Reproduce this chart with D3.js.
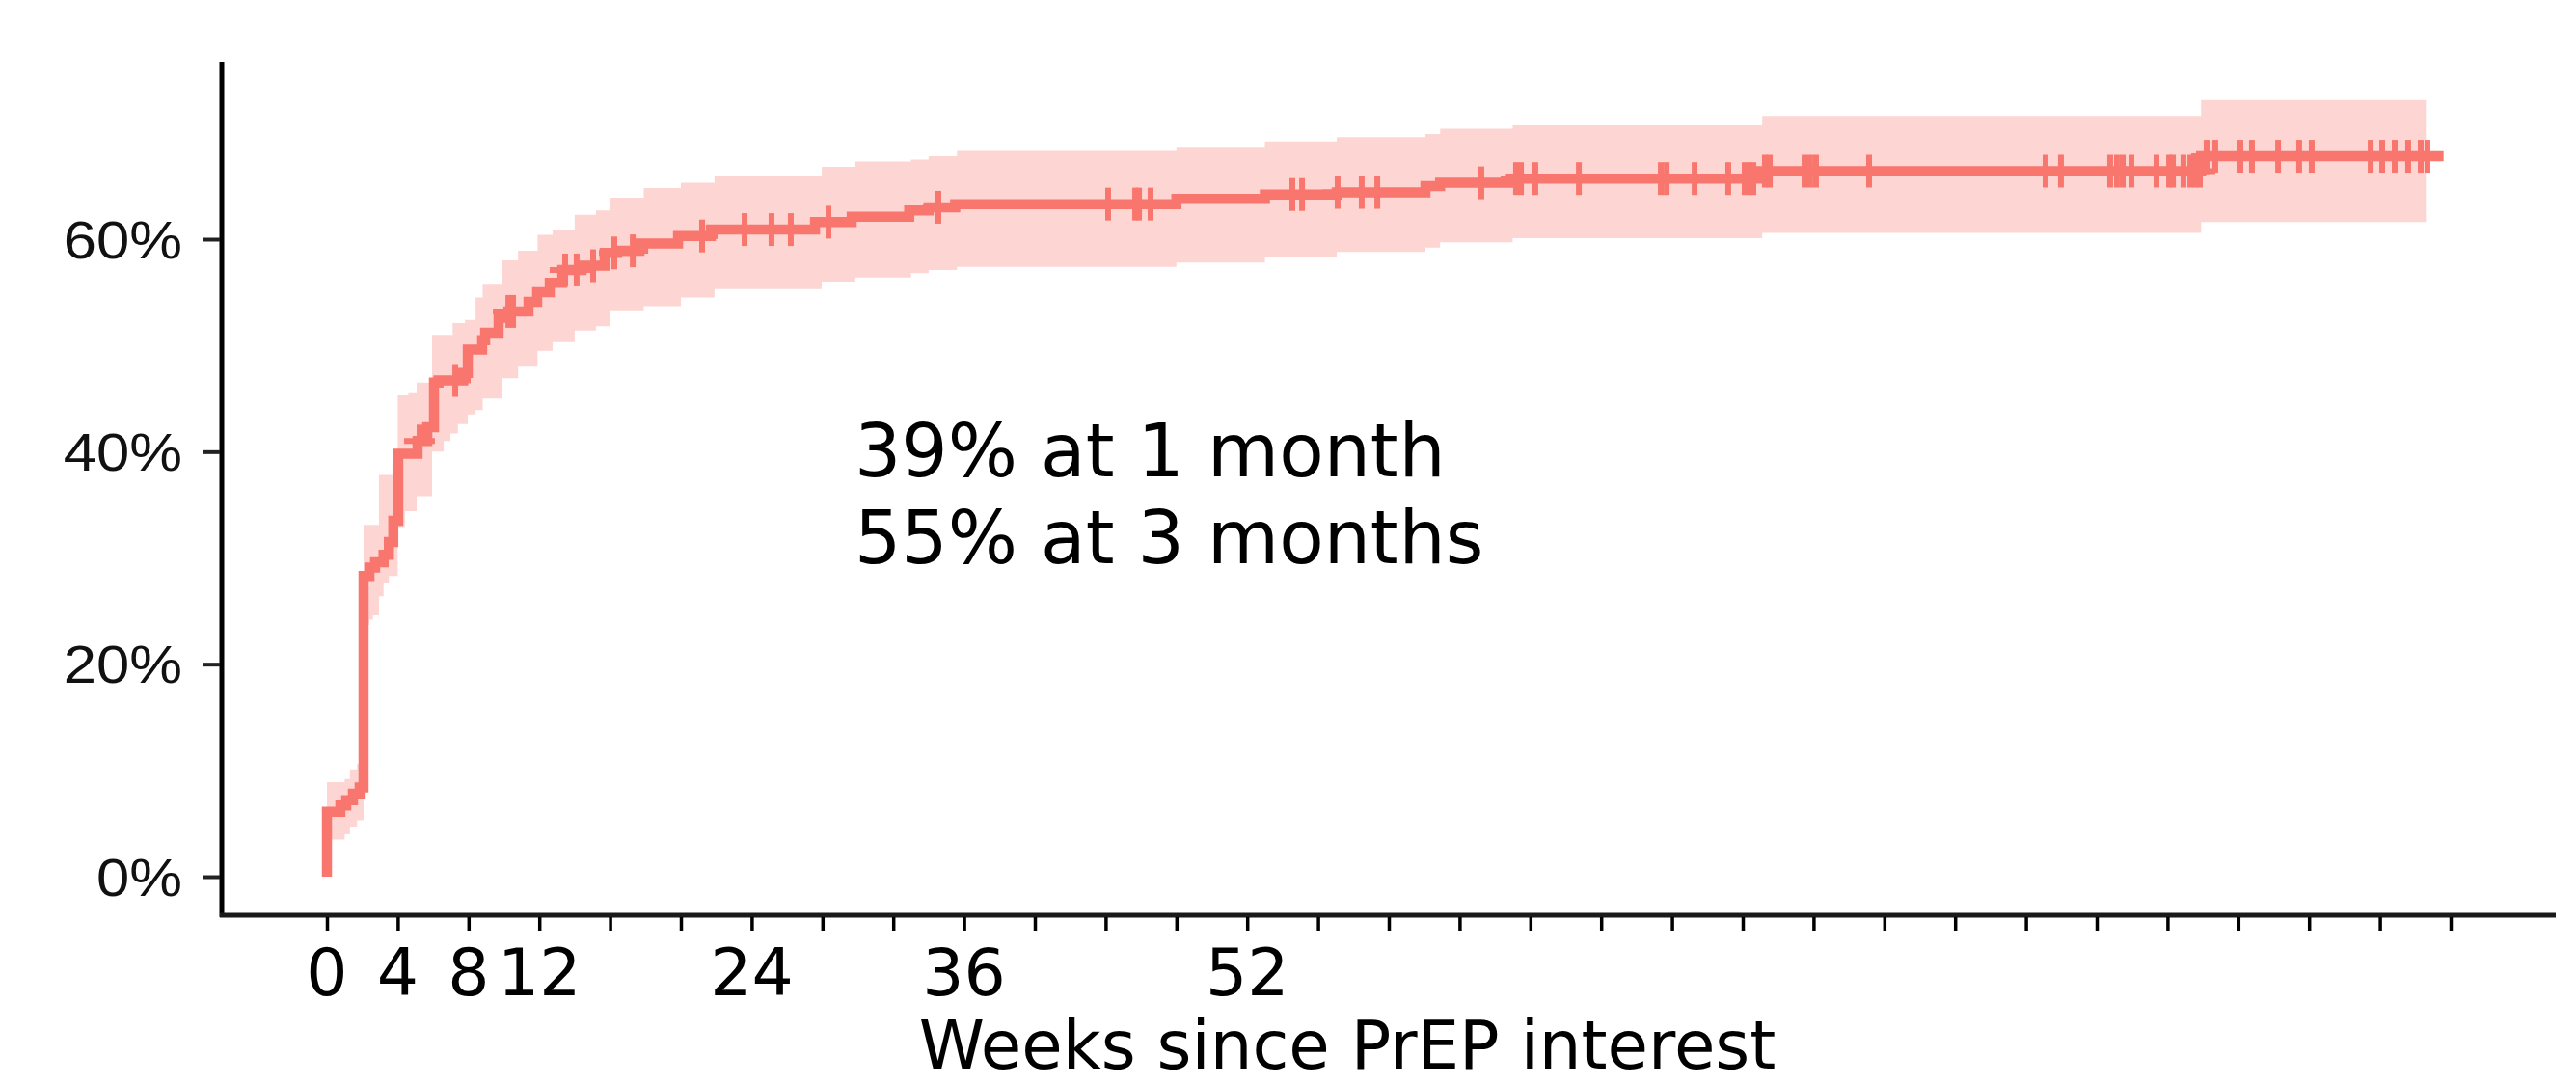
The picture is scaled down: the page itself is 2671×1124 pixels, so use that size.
<!DOCTYPE html>
<html><head><meta charset="utf-8">
<script src="https://cdn.jsdelivr.net/npm/d3@7"></script>
<style>html,body{margin:0;padding:0;background:#fff;} svg{display:block;}</style>
</head><body>
<svg id="chart" width="2671" height="1124"></svg>
<script>
// ---- data (weeks, cumulative % initiating PrEP) ----
const weeks = [0, 0, 0.76, 1.09, 1.47, 1.85, 2.07, 2.4, 2.72, 3.2, 3.5, 3.75, 4.03, 5.12, 5.67, 6.05, 6.3, 7.7,
  7.96, 8.77, 8.94, 9.7, 10.25, 11.39, 11.88, 12.59, 13.3, 14.39, 15.69, 16.4, 17.66, 19.84, 21.69, 27.58, 29.65,
  32.9, 34.0, 35.5, 48.0, 53.0, 57.06, 62.07, 62.9, 66.9, 80.9, 105.9, 119.6];
const estimate = [0, 6.1, 6.7, 7.2, 7.8, 8.4, 28.3, 29.1, 29.6, 30.3, 31.5, 33.5, 39.8, 41.0, 42.3, 46.5, 46.7, 47.4,
  49.6, 50.5, 51.2, 52.6, 53.2, 54.1, 55.0, 55.9, 57.1, 57.5, 58.7, 58.9, 59.6, 60.3, 60.9, 61.6, 62.1,
  62.7, 63.0, 63.3, 63.8, 64.2, 64.4, 65.0, 65.3, 65.7, 66.4, 67.8, 67.8];

const bandWeeks = [0, 1.0, 1.3, 1.7, 2.07, 2.4, 2.6, 2.94, 3.2, 3.5, 3.7, 4.0, 4.4, 4.6, 5.07, 5.94, 6.6, 6.98, 7.1,
  7.4, 7.8, 7.96, 8.4, 8.8, 9.9, 10.8, 11.9, 12.75, 14.0, 15.2, 16.0, 17.9, 20.0, 21.9, 27.96, 29.86, 33.0, 34.0,
  35.6, 48.0, 53.0, 57.06, 62.07, 62.9, 67.0, 81.1, 105.9, 118.6];
const upperCI = [8.9, 9.2, 10.1, 10.6, 33.1, 33.1, 33.1, 37.8, 37.8, 37.8, 38.9, 45.3, 45.3, 45.6, 46.5, 51.0, 51.0, 51.0, 52.1,
  52.1, 52.4, 52.4, 54.5, 55.8, 58.0, 58.9, 60.4, 60.9, 62.3, 62.7, 63.9, 64.8, 65.3, 66.0, 66.8, 67.3, 67.5, 67.8,
  68.3, 68.7, 69.2, 69.6, 69.9, 70.4, 70.7, 71.6, 73.1, 73.1];
const lowerCI = [3.5, 4.0, 4.7, 5.3, 23.7, 24.2, 24.6, 26.4, 27.6, 28.3, 28.3, 32.9, 34.4, 34.4, 35.8, 40.0, 41.0, 41.7, 41.7,
  42.6, 42.6, 43.5, 43.9, 45.0, 46.9, 48.0, 49.5, 50.3, 51.4, 51.8, 53.3, 53.7, 54.5, 55.3, 56.0, 56.4, 56.8, 57.1,
  57.4, 57.8, 58.3, 58.8, 59.2, 59.7, 60.1, 60.6, 61.6, 61.6];

const censorWeeks = [5.23, 7.25, 10.25, 10.52, 13.46, 14.11, 15.04, 16.24, 17.28, 21.2, 23.6, 25.12, 26.21, 28.34, 34.55,
  44.14, 45.67, 45.89, 46.54, 54.55, 55.1, 57.11, 58.47, 59.35, 65.23, 67.19, 67.47, 68.28, 70.74, 75.37, 75.7, 77.28,
  79.18, 80.11, 80.38, 80.6, 81.25, 81.53, 83.49, 83.81, 84.14, 87.14, 97.11, 97.98, 100.76, 101.14, 101.47, 101.96,
  103.38, 104.09, 104.31, 104.9, 105.29, 105.56, 105.83, 106.21, 106.7, 108.12, 108.77, 110.25, 111.44, 112.15,
  115.48, 116.13, 116.84, 117.6, 118.31, 118.69];

const yTickValues = [0, 20, 40, 60];
const yTickLabels = ["0%", "20%", "40%", "60%"];
const xTickValues = [0,4,8,12,16,20,24,28,32,36,40,44,48,52,56,60,64,68,72,76,80,84,88,92,96,100,104,108,112,116,120];
const xLabelValues = [0, 4, 8, 12, 24, 36, 52];
const xLabelTexts = ["0", "4", "8", "12", "24", "36", "52"];
const annotationLines = ["39% at 1 month", "55% at 3 months"];
const xTitle = "Weeks since PrEP interest";

// ---- drawing ----
const RED = "#F8766D";
const svg = d3.select("#chart");
const x = d3.scaleLinear().domain([0, 120]).range([339, 2541]);
const y = d3.scaleLinear().domain([0, 60]).range([909, 248]);

const bandData = bandWeeks.map((w, i) => ({w, lo: lowerCI[i], hi: upperCI[i]}));
const lineData = weeks.map((w, i) => ({w, v: estimate[i]}));

svg.append("path")
  .datum(bandData)
  .attr("fill", RED).attr("fill-opacity", 0.3)
  .attr("d", d3.area().curve(d3.curveStepAfter)
    .x(d => x(d.w)).y0(d => y(d.lo)).y1(d => y(d.hi)));

svg.append("path")
  .datum(lineData)
  .attr("fill", "none").attr("stroke", RED).attr("stroke-width", 10.5)
  .attr("d", d3.line().curve(d3.curveStepAfter).x(d => x(d.w)).y(d => y(d.v)));

function valueAt(t) {
  const i = d3.bisectRight(weeks, t) - 1;
  return estimate[Math.max(0, i)];
}
const cg = svg.append("g").attr("stroke", RED).attr("stroke-width", 6);
censorWeeks.forEach(t => {
  const cx = x(t), cy = y(valueAt(t));
  cg.append("line").attr("x1", cx).attr("x2", cx).attr("y1", cy - 17).attr("y2", cy + 17);
  cg.append("line").attr("x1", cx - 16).attr("x2", cx + 16).attr("y1", cy).attr("y2", cy);
});

// axes lines
svg.append("line").attr("x1", 230).attr("x2", 230).attr("y1", 64).attr("y2", 951)
  .attr("stroke", "#000").attr("stroke-width", 5);
svg.append("line").attr("x1", 228).attr("x2", 2650).attr("y1", 949).attr("y2", 949)
  .attr("stroke", "#1a1a1a").attr("stroke-width", 5);

// x ticks
const xAxis = d3.axisBottom(x).tickValues(xTickValues).tickSize(14).tickFormat("");
const xg = svg.append("g").attr("transform", "translate(0,951)").call(xAxis);
xg.select(".domain").remove();
xg.selectAll(".tick line").attr("stroke", "#000").attr("stroke-width", 3.5);

// y ticks
const yAxis = d3.axisLeft(y).tickValues(yTickValues).tickSize(18).tickFormat("");
const yg = svg.append("g").attr("transform", "translate(228,0)").call(yAxis);
yg.select(".domain").remove();
yg.selectAll(".tick line").attr("stroke", "#222").attr("stroke-width", 4);

// y labels
yTickValues.forEach((v, i) => {
  svg.append("g").attr("transform", `translate(189,${y(v)}) scale(1.12,1)`)
    .append("text").attr("text-anchor", "end").attr("dy", "0.36em")
    .attr("font-family", "Liberation Sans, Arial, sans-serif").attr("font-size", 55).attr("fill", "#111")
    .text(yTickLabels[i]);
});

// x labels
svg.selectAll("text.xl").data(xLabelValues).join("text").attr("class", "xl")
  .attr("x", d => x(d)).attr("y", 1032).attr("text-anchor", "middle")
  .attr("font-family", "DejaVu Sans, Verdana, sans-serif").attr("font-size", 68).attr("fill", "#000")
  .text((d, i) => xLabelTexts[i]);

// x title
svg.append("text").attr("x", 1397).attr("y", 1108).attr("text-anchor", "middle")
  .attr("font-family", "DejaVu Sans, Verdana, sans-serif").attr("font-size", 69).attr("fill", "#000")
  .text(xTitle);

// annotation
annotationLines.forEach((t, i) => {
  svg.append("text").attr("x", 886).attr("y", 494 + i * 90)
    .attr("font-family", "DejaVu Sans, Verdana, sans-serif").attr("font-size", 76).attr("fill", "#000")
    .text(t);
});
</script>
</body></html>
